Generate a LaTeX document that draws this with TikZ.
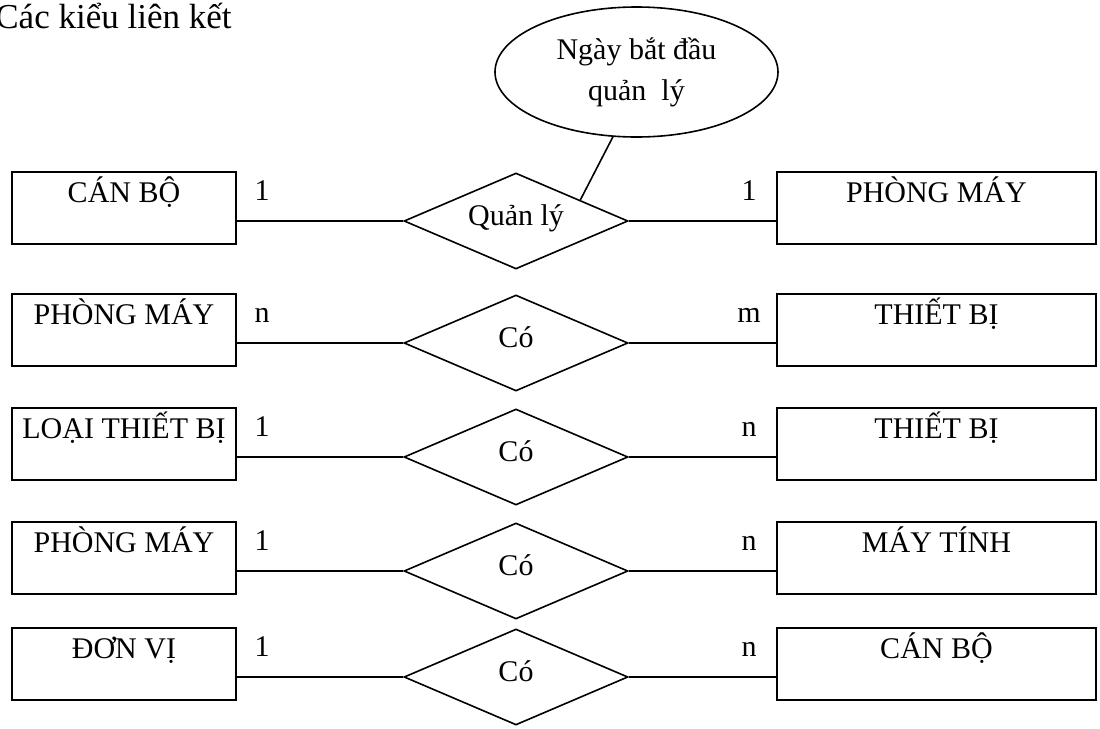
\documentclass[tikz,border=0pt]{standalone}
\usepackage{fontspec}
\setmainfont{Liberation Serif}
\usetikzlibrary{shapes.geometric,calc}

\begin{document}
\begin{tikzpicture}[x=0.5pt, y=-0.5pt,
  every node/.style={font=\fontsize{15}{18}\selectfont},
  entity/.style={draw, line width=0.8pt, rectangle, inner sep=0pt,
    text height=15pt, text depth=21pt, minimum width=112pt},
  wentity/.style={entity, minimum width=159.5pt},
  relation/.style={draw, line width=0.8pt, diamond, aspect=2.333, inner sep=0pt,
    minimum width=112pt, minimum height=48pt, text height=10pt, text depth=6pt},
  attribute/.style={draw, line width=0.8pt, ellipse, inner sep=0pt,
    minimum width=141.5pt, minimum height=65pt, align=center},
  card/.style={anchor=base, inner sep=0pt},
  link/.style={line width=0.8pt}]

\useasboundingbox (0,0) rectangle (1100,729);

% heading, partly cut off by the page edge
\node[anchor=base west, inner sep=0pt, font=\fontsize{17.5}{20}\selectfont]
  (title) at (-5,28) {Các kiểu liên kết};

% attribute of the first relationship
\node[attribute] (attr) at (636.5,72) {Ngày bắt đầu\\[2.5pt]quản\ \ lý};

% row 1
\node[entity]   (l1) at (124,208)   {CÁN BỘ};
\node[wentity]  (r1) at (936.5,208) {PHÒNG MÁY};
\node[relation] (d1) at (516,221)   {Quản lý};
\node[card] (cl1) at (262,200) {1};
\node[card] (cr1) at (749,200) {1};
\draw[link] (d1.west) -- (d1.west -| l1.east);
\draw[link] (d1.east) -- (d1.east -| r1.west);
\draw[link] (attr.250) -- ($(d1.north)!0.57!(d1.east)$);

% row 2
\node[entity]   (l2) at (124,330)   {PHÒNG MÁY};
\node[wentity]  (r2) at (936.5,330) {THIẾT BỊ};
\node[relation] (d2) at (516,343)   {Có};
\node[card] (cl2) at (262,322) {n};
\node[card] (cr2) at (749,322) {m};
\draw[link] (d2.west) -- (d2.west -| l2.east);
\draw[link] (d2.east) -- (d2.east -| r2.west);

% row 3
\node[entity]   (l3) at (124,444)   {LOẠI THIẾT BỊ};
\node[wentity]  (r3) at (936.5,444) {THIẾT BỊ};
\node[relation] (d3) at (516,457)   {Có};
\node[card] (cl3) at (262,436) {1};
\node[card] (cr3) at (749,436) {n};
\draw[link] (d3.west) -- (d3.west -| l3.east);
\draw[link] (d3.east) -- (d3.east -| r3.west);

% row 4
\node[entity]   (l4) at (124,558)   {PHÒNG MÁY};
\node[wentity]  (r4) at (936.5,558) {MÁY TÍNH};
\node[relation] (d4) at (516,571)   {Có};
\node[card] (cl4) at (262,550) {1};
\node[card] (cr4) at (749,550) {n};
\draw[link] (d4.west) -- (d4.west -| l4.east);
\draw[link] (d4.east) -- (d4.east -| r4.west);

% row 5
\node[entity]   (l5) at (124,664)   {ĐƠN VỊ};
\node[wentity]  (r5) at (936.5,664) {CÁN BỘ};
\node[relation] (d5) at (516,677)   {Có};
\node[card] (cl5) at (262,656) {1};
\node[card] (cr5) at (749,656) {n};
\draw[link] (d5.west) -- (d5.west -| l5.east);
\draw[link] (d5.east) -- (d5.east -| r5.west);
\end{tikzpicture}
\end{document}
